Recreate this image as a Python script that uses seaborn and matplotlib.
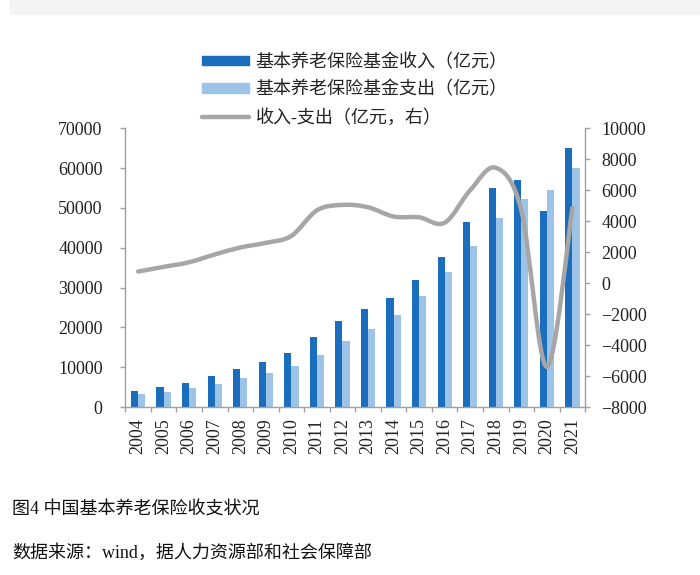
import numpy as np
import pandas as pd
import matplotlib
matplotlib.use('Agg')
import matplotlib.pyplot as plt
from matplotlib.path import Path
from matplotlib.patches import PathPatch, Rectangle, Patch
from matplotlib.lines import Line2D
import seaborn as sns

# data (亿元)
years = [str(y) for y in range(2004, 2022)]
income = [4000, 5000, 6100, 7700, 9600, 11400, 13700, 17700, 21600,
          24600, 27500, 32000, 37800, 46400, 54900, 56900, 49200, 65100]
expense = [3400, 3900, 4800, 5700, 7300, 8600, 10400, 13200, 16600,
           19500, 23200, 27800, 33900, 40400, 47400, 52300, 54600, 60100]
balance = [750, 1050, 1350, 1850, 2300, 2600, 3050, 4700, 5050,
           4900, 4300, 4250, 3900, 6000, 7450, 4700, -5400, 4850]

lbl_in = '基本养老保险基金收入（亿元）'
lbl_out = '基本养老保险基金支出（亿元）'
lbl_bal = '收入-支出（亿元，右）'

c_in = '#1B6EBE'
c_out = '#9DC3E6'
c_bal = '#A6A6A6'
c_axis = '#A0A0A0'

sns.set_style('white')
plt.rcParams['font.family'] = ['Liberation Serif', 'Noto Sans CJK SC', 'DejaVu Sans']

df = pd.DataFrame({
    'year': years * 2,
    'series': [lbl_in] * len(years) + [lbl_out] * len(years),
    'value': income + expense,
})

fig = plt.figure(figsize=(7, 5.75), dpi=100)
fig.patches.append(Rectangle((10 / 700, 1 - 14 / 575), 1, 14 / 575,
                             transform=fig.transFigure, color='#F4F4F4', zorder=0))

ax = fig.add_axes([0.179, 0.292, 0.657, 0.485])
sns.barplot(data=df, x='year', y='value', hue='series', ax=ax,
            palette=[c_in, c_out], width=0.56, legend=False, saturation=1)
for p in ax.patches:
    p.set_edgecolor('none')
ax.set_xlim(-0.5, len(years) - 0.5)
ax.set_ylim(0, 70000)
ax.set_yticks(range(0, 70001, 10000))
ax.set_xlabel('')
ax.set_ylabel('')

ax2 = ax.twinx()
ax2.set_ylim(-8000, 10000)
ax2.set_yticks(range(-8000, 10001, 2000))

# smoothed line (Catmull-Rom through the yearly points)
pts = np.column_stack([np.arange(len(balance)), balance]).astype(float)
ext = np.vstack([pts[0], pts, pts[-1]])
verts = [tuple(pts[0])]
codes = [Path.MOVETO]
for i in range(len(pts) - 1):
    p0, p1, p2, p3 = ext[i], ext[i + 1], ext[i + 2], ext[i + 3]
    verts += [tuple(p1 + (p2 - p0) / 6), tuple(p2 - (p3 - p1) / 6), tuple(p2)]
    codes += [Path.CURVE4] * 3
ax2.add_patch(PathPatch(Path(verts, codes), facecolor='none', edgecolor=c_bal,
                        lw=3.2, capstyle='round', joinstyle='round', zorder=5))

for a in (ax, ax2):
    for s in a.spines.values():
        s.set_visible(False)
ax.spines['left'].set_visible(True)
ax.spines['bottom'].set_visible(True)
ax2.spines['right'].set_visible(True)
for s in (ax.spines['left'], ax.spines['bottom'], ax2.spines['right']):
    s.set_color(c_axis)
    s.set_linewidth(1.0)

ax.tick_params(axis='y', direction='out', length=3.3, width=1, color=c_axis,
               pad=13, labelsize=13, labelcolor='#222222', left=True)
ax2.tick_params(axis='y', direction='out', length=3.3, width=1, color=c_axis,
                pad=8.5, labelsize=13, labelcolor='#222222', right=True)
ax.set_xticks(range(len(years)))
ax.set_xticklabels(years, rotation=90)
ax.set_xticks(np.arange(-0.5, len(years)), minor=True)
ax.tick_params(axis='x', which='major', length=0, pad=8, labelsize=13,
               labelcolor='#222222')
ax.tick_params(axis='x', which='minor', direction='out', length=3.6, width=1,
               color=c_axis, bottom=True)

handles = [Patch(color=c_in, label=lbl_in), Patch(color=c_out, label=lbl_out),
           Line2D([], [], color=c_bal, lw=3.2, solid_capstyle='round', label=lbl_bal)]
fig.legend(handles=handles, loc='center', bbox_to_anchor=(355 / 700, 1 - 90 / 575),
           frameon=False, fontsize=13, handlelength=2.6, handleheight=0.4,
           handletextpad=0.35, labelspacing=0.56, labelcolor='#222222')

fig.text(12 / 700, 1 - 510 / 575, '图4 中国基本养老保险收支状况', fontsize=13,
         va='center', ha='left', color='#111111')
fig.text(12 / 700, 1 - 553 / 575, '数据来源：wind，据人力资源部和社会保障部', fontsize=13,
         va='center', ha='left', color='#111111')

fig.savefig('out.png', dpi=100)
